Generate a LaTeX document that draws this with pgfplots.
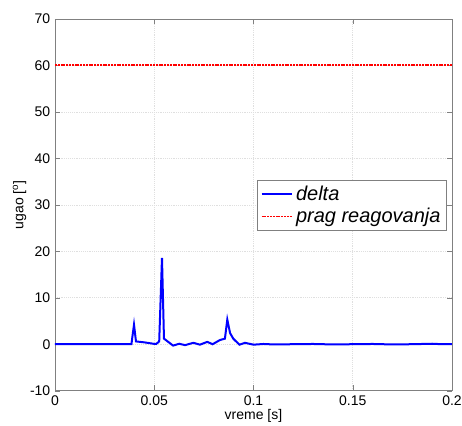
\documentclass[border=0pt]{standalone}
\usepackage{pgfplots}
\pgfplotsset{compat=1.18}
\usepackage{fontspec}
\setmainfont{Liberation Sans}
\definecolor{pragred}{RGB}{255,0,0}

\begin{document}
\begin{tikzpicture}
\begin{axis}[
    name=ax,
    scale only axis,
    width=297.75pt,
    height=278.75pt,
    xmin=0, xmax=0.2,
    ymin=-10, ymax=70,
    xtick={0,0.05,0.1,0.15,0.2},
    ytick={-10,0,10,20,30,40,50,60,70},
    xticklabels={0,0.05,0.1,0.15,0.2},
    scaled x ticks=false,
    tick align=inside,
    tick pos=both,
    major tick length=4pt,
    axis line style={gray},
    tick style={gray},
    grid=major,
    major grid style={gray!25, densely dotted},
    tick label style={font=\fontsize{10.5}{12}\selectfont},
    /pgf/number format/assume math mode=true,
    xlabel={vreme [s]},
    ylabel={ugao [\textsuperscript{o}]},
    label style={font=\fontsize{10.5}{12}\selectfont},
    xlabel style={yshift=4pt},
    ylabel style={yshift=-4pt},
    legend style={
        at={(0.987,0.567)}, anchor=north east,
        draw=gray, fill=white,
        font=\fontsize{15}{18}\selectfont\itshape,
        row sep=0pt, inner sep=2.5pt,
    },
    legend cell align=left,
    legend image code/.code={\draw[#1] (0pt,0pt) -- (23pt,0pt);},
]
\addplot[blue, line width=1.5pt] coordinates {
    (0,0) (0.0385,0) (0.0398,4.2) (0.0408,0.6) (0.045,0.4) (0.0495,0.1)
    (0.0510,0.05) (0.0525,0.6) (0.0539,18.6) (0.0549,1.2) (0.0595,-0.3)
    (0.0626,0.1) (0.0655,-0.2) (0.0697,0.3) (0.0730,-0.1) (0.0767,0.5)
    (0.0794,0) (0.0831,0.9) (0.0856,1.2) (0.0868,5.3) (0.0882,2.4)
    (0.0898,1.2) (0.0929,-0.1) (0.0957,0.3) (0.1,-0.1) (0.105,0.05)
    (0.11,-0.05) (0.12,0) (0.13,0.05) (0.14,-0.05) (0.15,0) (0.16,0.05)
    (0.17,-0.05) (0.18,0) (0.19,0.1) (0.195,0) (0.2,0)
};
\addlegendentry{delta}
\addplot[draw=pragred, color=pragred, line width=1.1pt,
    dash pattern=on 1.5pt off 0.6pt] coordinates {
    (0,60.1) (0.05,60.1) (0.1,60.1) (0.15,60.1) (0.2,60.1)
};
\addlegendentry{prag reagovanja}
\end{axis}
\pgfresetboundingbox
\path[use as bounding box] ([shift={(-41.25pt,-26.5pt)}]ax.south west)
    rectangle ([shift={(305.25pt,293pt)}]ax.south west);
\end{tikzpicture}
\end{document}
